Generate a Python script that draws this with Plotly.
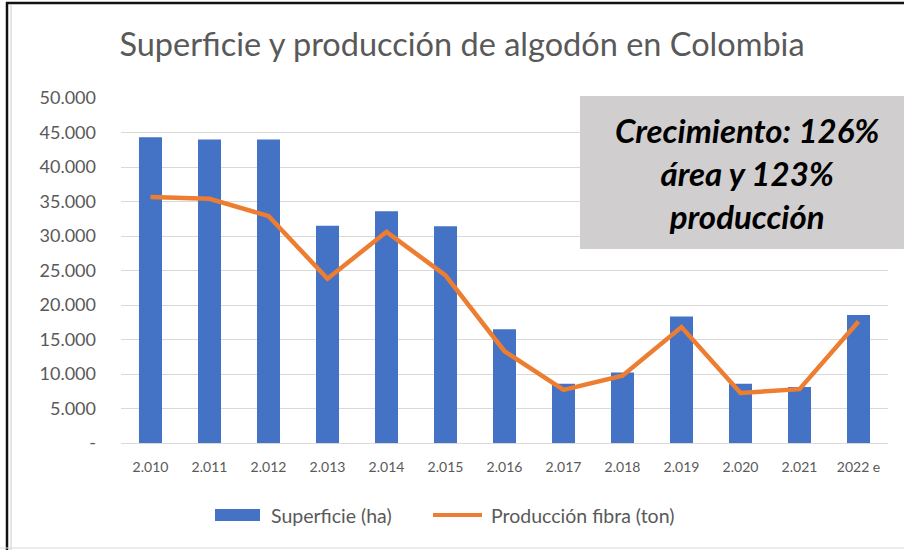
import plotly.graph_objects as go

years = ["2.010", "2.011", "2.012", "2.013", "2.014", "2.015", "2.016",
         "2.017", "2.018", "2.019", "2.020", "2.021", "2022 e"]
superficie = [44300, 44000, 44000, 31500, 33600, 31400, 16500,
              8600, 10200, 18350, 8600, 8100, 18550]
produccion = [35650, 35400, 32900, 23800, 30600, 24300, 13300,
              7700, 9750, 16800, 7250, 7800, 17600]
y_tickvals = [0, 5000, 10000, 15000, 20000, 25000, 30000, 35000, 40000, 45000, 50000]
y_ticktext = ["-", "5.000", "10.000", "15.000", "20.000", "25.000", "30.000",
              "35.000", "40.000", "45.000", "50.000"]

title_text = "Superficie y producción de algodón en Colombia"
note_text = "Crecimiento: 126%<br>área y 123%<br>producción"
legend_names = ["Superficie (ha)", "Producción fibra (ton)"]

BLUE = "#4472C4"
ORANGE = "#ED7D31"
GREY = "#595959"
FONT = "Lato"

# plot area in pixels
L, R, T, B = 121, 888, 98, 443
W, H = R - L, B - T


def px(x):
    return (x - L) / W


def py(y):
    return (B - y) / H


fig = go.Figure()
fig.add_trace(go.Bar(x=years, y=superficie, name=legend_names[0],
                     marker=dict(color=BLUE, line=dict(width=0)),
                     showlegend=False))
fig.add_trace(go.Scatter(x=years, y=produccion, name=legend_names[1],
                         mode="lines", line=dict(color=ORANGE, width=4.5),
                         showlegend=False))

shapes = [
    # grey note box
    dict(type="rect", xref="paper", yref="paper", x0=px(580), x1=px(904),
         y0=py(249), y1=py(96), fillcolor="#d0cece", line=dict(width=0), layer="above"),
    # outer frame
    dict(type="line", xref="paper", yref="paper", x0=px(6), x1=px(904),
         y0=py(3), y1=py(3), line=dict(color="#111111", width=2.5)),
    dict(type="line", xref="paper", yref="paper", x0=px(7), x1=px(7),
         y0=py(2), y1=py(550), line=dict(color="#111111", width=2.5)),
    dict(type="line", xref="paper", yref="paper", x0=px(11), x1=px(11),
         y0=py(5), y1=py(550), line=dict(color="#cccccc", width=1)),
    dict(type="line", xref="paper", yref="paper", x0=px(0), x1=px(904),
         y0=py(548), y1=py(548), line=dict(color="#d9d9d9", width=1)),
    # custom legend
    dict(type="rect", xref="paper", yref="paper", x0=px(215), x1=px(260),
         y0=py(521), y1=py(509), fillcolor=BLUE, line=dict(width=0)),
    dict(type="line", xref="paper", yref="paper", x0=px(433), x1=px(482),
         y0=py(515), y1=py(515), line=dict(color=ORANGE, width=4)),
]

annotations = [
    dict(text=note_text, xref="paper", yref="paper", x=px(747), y=py(173),
         xanchor="center", yanchor="middle", showarrow=False, align="center",
         font=dict(family=FONT, size=33, color="#000000", weight="bold", style="italic")),
    dict(text=legend_names[0], xref="paper", yref="paper", x=px(269), y=py(515),
         xanchor="left", yanchor="middle", showarrow=False,
         font=dict(family=FONT, size=19.5, color=GREY)),
    dict(text=legend_names[1], xref="paper", yref="paper", x=px(489), y=py(515),
         xanchor="left", yanchor="middle", showarrow=False,
         font=dict(family=FONT, size=19.5, color=GREY)),
]

fig.update_layout(
    width=904, height=550,
    margin=dict(l=L, r=904 - R, t=T, b=550 - B, pad=0),
    paper_bgcolor="white", plot_bgcolor="white",
    title=dict(text=title_text, xref="container", yref="container",
               x=462 / 904, y=1 - 45 / 550, xanchor="center", yanchor="middle",
               font=dict(family=FONT, size=32.5, color=GREY)),
    bargap=0.61,
    showlegend=False,
    shapes=shapes,
    annotations=annotations,
    font=dict(family=FONT, color=GREY),
)
fig.update_yaxes(range=[0, 50000], tickvals=y_tickvals, ticktext=y_ticktext,
                 showgrid=True, gridcolor="#d9d9d9", gridwidth=1,
                 zeroline=False, showline=False, ticks="",
                 tickfont=dict(family=FONT, size=18, color=GREY),
                 ticklabelstandoff=24)
fig.update_xaxes(showgrid=False, showline=True, linecolor="#d9d9d9", linewidth=1,
                 ticks="", tickfont=dict(family=FONT, size=14, color=GREY),
                 ticklabelstandoff=11, tickangle=0)

fig.write_html("out.html",
               config={"displayModeBar": False},
               post_script="document.body.style.margin='0';document.body.style.overflow='hidden';")
